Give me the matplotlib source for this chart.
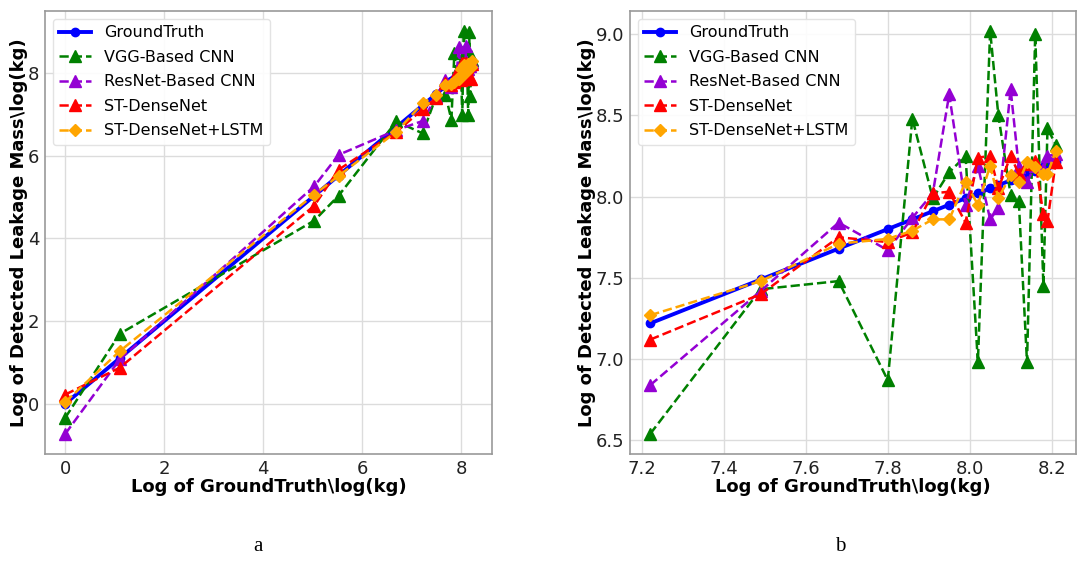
import matplotlib
matplotlib.use("Agg")
import matplotlib.pyplot as plt
import numpy as np

# Data (log of ground truth on x, log of detected leakage mass on y)
x_gt = [0.0, 1.10, 5.03, 5.52, 6.69, 7.22, 7.49, 7.68, 7.80, 7.86, 7.91, 7.95,
        7.99, 8.02, 8.05, 8.07, 8.10, 8.12, 8.14, 8.16, 8.18, 8.19, 8.21]
ground_truth = list(x_gt)
vgg_cnn = [-0.34, 1.69, 4.43, 5.03, 6.83, 6.54, 7.43, 7.48, 6.87, 8.48, 7.99, 8.15,
           8.25, 6.98, 9.02, 8.50, 8.01, 7.97, 6.98, 9.00, 7.45, 8.42, 8.32]
resnet_cnn = [-0.73, 1.07, 5.26, 6.02, 6.62, 6.84, 7.42, 7.84, 7.67, 7.87, 8.02, 8.63,
              7.95, 8.19, 7.86, 7.93, 8.66, 8.18, 8.09, 8.19, 8.17, 8.25, 8.26]
st_densenet = [0.22, 0.87, 4.79, 5.66, 6.58, 7.12, 7.40, 7.75, 7.72, 7.78, 8.02, 8.03,
               7.84, 8.24, 8.25, 8.05, 8.25, 8.14, 8.20, 8.22, 7.89, 7.85, 8.21]
st_densenet_lstm = [0.04, 1.27, 5.06, 5.51, 6.58, 7.27, 7.48, 7.71, 7.74, 7.79, 7.86, 7.86,
                    8.09, 7.95, 8.19, 7.99, 8.13, 8.09, 8.21, 8.18, 8.14, 8.14, 8.28]
zoom_start = 5  # panel b shows points from x = 7.22 onward

series = [
    ("GroundTruth", ground_truth, dict(color="blue", linestyle="-", marker="o", lw=2.8, ms=6)),
    ("VGG-Based CNN", vgg_cnn, dict(color="green", linestyle="--", marker="^", lw=1.8, ms=8)),
    ("ResNet-Based CNN", resnet_cnn, dict(color="darkviolet", linestyle="--", marker="^", lw=1.8, ms=8)),
    ("ST-DenseNet", st_densenet, dict(color="red", linestyle="--", marker="^", lw=1.8, ms=8)),
    ("ST-DenseNet+LSTM", st_densenet_lstm, dict(color="orange", linestyle="--", marker="D", lw=1.8, ms=6.5)),
]

fig = plt.figure(figsize=(10.78, 5.65), dpi=100)
ax_a = fig.add_axes([0.0417, 0.1965, 0.4147, 0.7845])
ax_b = fig.add_axes([0.5844, 0.1965, 0.4137, 0.7845])

for ax, start in ((ax_a, 0), (ax_b, zoom_start)):
    xs = x_gt[start:]
    for name, vals, st in series:
        ax.plot(xs, vals[start:], label=name, color=st["color"], linestyle=st["linestyle"],
                marker=st["marker"], linewidth=st["lw"], markersize=st["ms"])
    ax.grid(True, color="#dcdcdc", linewidth=1.0)
    ax.set_axisbelow(True)
    for sp in ax.spines.values():
        sp.set_color("#999999")
        sp.set_linewidth(1.2)
    ax.tick_params(axis="both", length=0, pad=4, labelsize=13, colors="#222222")
    ax.set_xlabel("Log of GroundTruth\\log(kg)", fontsize=13, fontweight="bold", labelpad=0)
    ax.set_ylabel("Log of Detected Leakage Mass\\log(kg)", fontsize=13, fontweight="bold", labelpad=0)
    leg = ax.legend(loc="upper left", fontsize=11.5, framealpha=0.9, edgecolor="#e0e0e0",
                    handlelength=2.0, borderpad=0.4, labelspacing=0.6)

ax_a.set_xticks([0, 2, 4, 6, 8])
ax_a.set_yticks([0, 2, 4, 6, 8])
ax_b.set_xticks([7.2, 7.4, 7.6, 7.8, 8.0, 8.2])
ax_b.set_yticks([6.5, 7.0, 7.5, 8.0, 8.5, 9.0])

fig.text(0.239, 0.032, "a", fontsize=15, family="Liberation Serif", ha="center", va="center")
fig.text(0.779, 0.032, "b", fontsize=15, family="Liberation Serif", ha="center", va="center")

fig.savefig("out.png", dpi=100)
